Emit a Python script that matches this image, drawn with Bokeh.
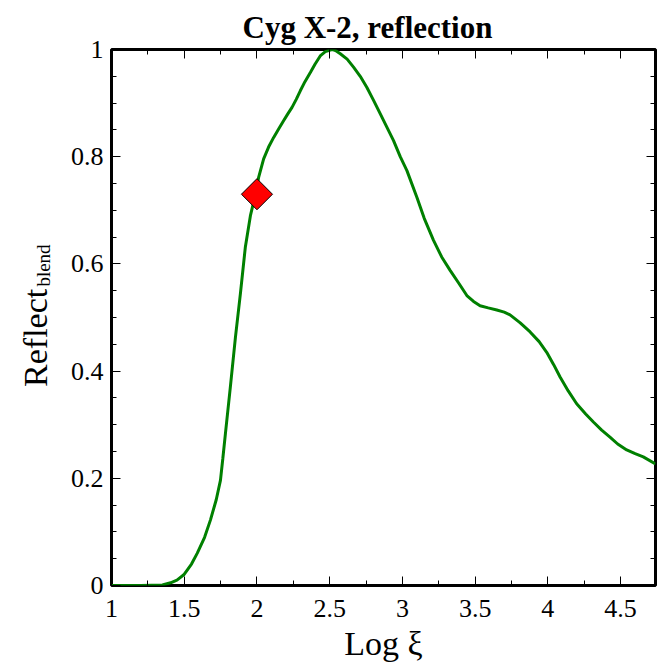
from math import pi
from bokeh.plotting import figure
from bokeh.models import FixedTicker, LinearAxis, Range1d, CustomJSTickFormatter
from bokeh.embed import file_html
from bokeh.resources import INLINE

# ---- data ----
log_xi = [1.0, 1.2, 1.35, 1.406, 1.45, 1.497, 1.55, 1.589, 1.64, 1.68, 1.72, 1.749, 1.765,
          1.783, 1.817, 1.852, 1.886, 1.92, 1.955, 1.99, 2.012, 2.046, 2.08, 2.115,
          2.15, 2.183, 2.21, 2.241, 2.27, 2.298, 2.33, 2.367, 2.40, 2.435, 2.47,
          2.504, 2.52, 2.54, 2.573, 2.62, 2.664, 2.71, 2.756, 2.80, 2.848, 2.939,
          2.985, 3.031, 3.10, 3.15, 3.214, 3.27, 3.328, 3.39, 3.443, 3.489, 3.534,
          3.59, 3.649, 3.70, 3.74, 3.81, 3.878, 3.94, 3.992, 4.04, 4.084, 4.14,
          4.198, 4.26, 4.313, 4.37, 4.427, 4.48, 4.542, 4.60, 4.656, 4.74]
reflect_blend = [0.0, 0.0, 0.001, 0.005, 0.010, 0.020, 0.040, 0.060, 0.090, 0.122, 0.160, 0.196, 0.236,
                 0.283, 0.370, 0.463, 0.544, 0.631, 0.690, 0.730, 0.762, 0.796, 0.818, 0.836,
                 0.852, 0.867, 0.879, 0.892, 0.907, 0.923, 0.940, 0.957, 0.973, 0.988, 0.996,
                 0.999, 1.0, 0.998, 0.992, 0.982, 0.967, 0.950, 0.929, 0.906, 0.880, 0.830,
                 0.800, 0.774, 0.724, 0.685, 0.644, 0.613, 0.588, 0.563, 0.541, 0.530, 0.522,
                 0.518, 0.514, 0.510, 0.505, 0.490, 0.473, 0.455, 0.435, 0.412, 0.389, 0.363,
                 0.339, 0.320, 0.305, 0.290, 0.277, 0.264, 0.253, 0.246, 0.240, 0.227]
marker_x = [2.0]
marker_y = [0.73]

x_ticks = [1, 1.5, 2, 2.5, 3, 3.5, 4, 4.5]
x_tick_labels = ["1", "1.5", "2", "2.5", "3", "3.5", "4", "4.5"]
x_minor = [1.25, 1.75, 2.25, 2.75, 3.25, 3.75, 4.25]
y_ticks = [0, 0.2, 0.4, 0.6, 0.8, 1.0]
y_tick_labels = ["0", "0.2", "0.4", "0.6", "0.8", "1"]
y_minor = [0.05, 0.1, 0.15, 0.25, 0.3, 0.35, 0.45, 0.5, 0.55, 0.65, 0.7, 0.75, 0.85, 0.9, 0.95]

title_text = "Cyg X-2,  reflection"
x_label = "Log ξ"
y_label_main = "Reflect"
y_label_sub = "blend"
y_label_main_at = 0.462   # where the y-axis title sits along the axis
y_label_sub_at = 0.597

FONT = "Liberation Serif"

p = figure(width=664, height=664, x_range=Range1d(1, 4.74), y_range=Range1d(0, 1),
           output_backend="svg", toolbar_location=None,
           min_border_left=111, min_border_right=9, min_border_top=49, min_border_bottom=79)

p.xgrid.grid_line_color = None
p.ygrid.grid_line_color = None
p.outline_line_color = "black"
p.outline_line_width = 3
p.outline_line_alpha = 1.0
p.background_fill_color = "white"
p.border_fill_color = "white"

xt = FixedTicker(ticks=x_ticks, minor_ticks=x_minor)
yt = FixedTicker(ticks=y_ticks, minor_ticks=y_minor)


def style_axis(ax, ticker):
    ax.ticker = ticker
    ax.axis_line_color = None
    ax.major_tick_in = 9
    ax.major_tick_out = 0
    ax.minor_tick_in = 5
    ax.minor_tick_out = 0
    ax.major_tick_line_color = "black"
    ax.minor_tick_line_color = "black"
    ax.major_tick_line_width = 1
    ax.minor_tick_line_width = 1
    ax.major_label_text_font = FONT
    ax.major_label_text_font_size = "26px"
    ax.major_label_text_color = "black"


style_axis(p.xaxis[0], xt)
style_axis(p.yaxis[0], yt)
p.xaxis[0].major_label_overrides = dict(zip(x_ticks, x_tick_labels))
p.yaxis[0].major_label_overrides = dict(zip(y_ticks, y_tick_labels))
p.xaxis[0].major_label_standoff = 14
p.yaxis[0].major_label_standoff = 8
p.xaxis[0].axis_label = x_label
p.xaxis[0].axis_label_text_font = FONT
p.xaxis[0].axis_label_text_font_size = "34px"
p.xaxis[0].axis_label_text_font_style = "normal"
p.xaxis[0].axis_label_text_color = "black"
p.xaxis[0].axis_label_standoff = 5

blank = CustomJSTickFormatter(code="return ''")
top_ax = LinearAxis()
right_ax = LinearAxis()
for ax, t in ((top_ax, xt), (right_ax, yt)):
    style_axis(ax, t)
    ax.formatter = blank
    ax.major_label_text_font_size = "0px"
    ax.major_label_standoff = 0
p.add_layout(top_ax, "above")
p.add_layout(right_ax, "right")


# y-axis title "Reflect" with subscript "blend", built from two label-only axes
def label_axis(text, at, size, standoff):
    ax = LinearAxis(ticker=FixedTicker(ticks=[at], minor_ticks=[]))
    ax.major_label_overrides = {at: text}
    ax.major_label_orientation = "vertical"
    ax.major_label_text_font = FONT
    ax.major_label_text_font_size = size
    ax.major_label_text_color = "black"
    ax.major_label_standoff = standoff
    ax.axis_line_color = None
    ax.major_tick_line_color = None
    ax.minor_tick_line_color = None
    ax.major_tick_in = 0
    ax.major_tick_out = 0
    ax.minor_tick_in = 0
    ax.minor_tick_out = 0
    return ax


p.add_layout(label_axis(y_label_sub, y_label_sub_at, "19px", 13), "left")
p.add_layout(label_axis(y_label_main, y_label_main_at, "34px", -24), "left")

p.title.text = title_text
p.title.text_font = FONT
p.title.text_font_size = "31px"
p.title.text_font_style = "bold"
p.title.text_color = "black"
p.title.align = "left"
p.title.offset = 131
p.title.standoff = 9

p.line(log_xi, reflect_blend, line_color="#008000", line_width=3)
p.scatter(marker_x, marker_y, marker="square", angle=pi / 4, size=22,
          fill_color="#ff0000", line_color="black", line_width=1)

open("out.html", "w").write(file_html(p, INLINE))
